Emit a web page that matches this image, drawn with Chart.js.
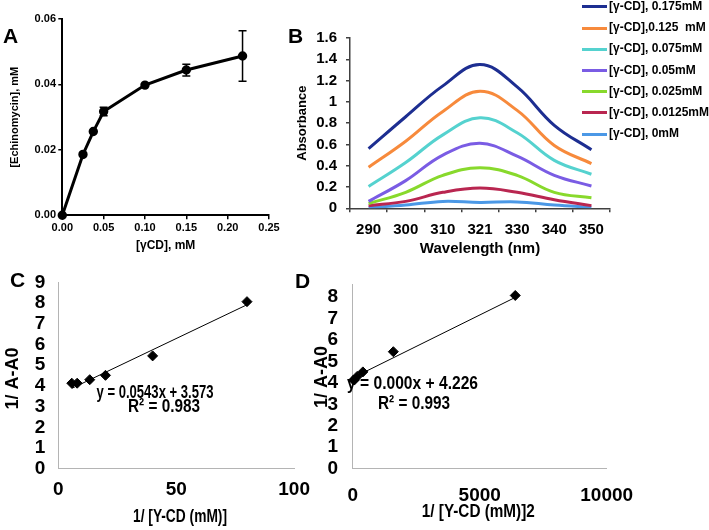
<!DOCTYPE html>
<html>
<head>
<meta charset="utf-8">
<script src="https://cdn.jsdelivr.net/npm/chart.js@4.4.1/dist/chart.umd.min.js"></script>
<style>
  body { margin: 0; background: #fff; }
  #fig { position: relative; width: 709px; height: 530px; overflow: hidden; font-family: "Liberation Sans", Arial, sans-serif; }
  #fig canvas { position: absolute; }
  .tag { position: absolute; font-weight: bold; font-size: 21px; line-height: 21px; }
  .leg { position: absolute; left: 582px; height: 14px; line-height: 14px; font-size: 12px; font-weight: bold; white-space: pre; }
  .leg span.ln { display: inline-block; width: 25px; height: 3px; vertical-align: middle; margin-right: 2px; }
</style>
</head>
<body>
<div id="fig">
  <canvas id="chartA" width="284" height="256" style="left:0;top:0"></canvas>
  <canvas id="chartB" width="350" height="262" style="left:280px;top:0"></canvas>
  <canvas id="chartC" width="320" height="272" style="left:0;top:258px"></canvas>
  <canvas id="chartD" width="355" height="272" style="left:305px;top:258px"></canvas>
  <div class="tag" style="left:3px;top:25px">A</div>
  <div class="tag" style="left:288px;top:25px">B</div>
  <div class="tag" style="left:10px;top:269px">C</div>
  <div class="tag" style="left:295px;top:270px">D</div>
  <div id="legendB"></div>
</div>
<script>
// panel A
var concA = [0, 0.025, 0.0375, 0.05, 0.1, 0.15, 0.218];
var echinoA = [0, 0.0186, 0.0256, 0.0317, 0.0398, 0.0444, 0.0487];
var errA = [0, 0, 0, 0.0013, 0.0003, 0.0018, 0.0077];

// panel B
var wavelengths = ['290', '300', '310', '321', '330', '340', '350'];
var seriesB = ['[γ-CD], 0.175mM', '[γ-CD],0.125  mM', '[γ-CD], 0.075mM', '[γ-CD], 0.05mM', '[γ-CD], 0.025mM', '[γ-CD], 0.0125mM', '[γ-CD], 0mM'];
var colorsB = ['#1d2e91', '#f78a3c', '#55d2cf', '#7a5ce4', '#88d92c', '#b92650', '#4b98e6'];
var abs175 = [0.56, 0.86, 1.15, 1.35, 1.14, 0.78, 0.55];
var abs125 = [0.385, 0.63, 0.91, 1.10, 0.92, 0.59, 0.42];
var abs075 = [0.205, 0.43, 0.69, 0.85, 0.71, 0.45, 0.32];
var abs05 = [0.065, 0.26, 0.50, 0.61, 0.49, 0.31, 0.21];
var abs025 = [0.045, 0.15, 0.31, 0.38, 0.31, 0.15, 0.10];
var abs0125 = [0.025, 0.065, 0.15, 0.19, 0.15, 0.08, 0.025];
var abs0 = [0.008, 0.03, 0.065, 0.055, 0.06, 0.03, 0.01];
var absB = [abs175, abs125, abs075, abs05, abs025, abs0125, abs0];

// panels C and D
var invConc = [5.714, 8, 13.33, 20, 40, 80];
var invConcSq = [32.65, 64, 177.8, 400, 1600, 6400];
var invDeltaA = [4.13, 4.13, 4.30, 4.51, 5.45, 8.07];
var fitCx = [5.714, 80], fitCy = [3.88, 7.92];
var fitDx = [32.65, 6400], fitDy = [4.25, 7.98];

Chart.defaults.font.family = '"Liberation Sans", Arial, sans-serif';
Chart.defaults.color = '#000';

const pairs = (xs, ys) => xs.map((x, i) => ({x: x, y: ys[i]}));

const errorBars = {
  id: 'errorBars',
  afterDatasetsDraw(chart, args, opts) {
    const ctx = chart.ctx, x = chart.scales.x, y = chart.scales.y;
    const data = chart.data.datasets[0].data;
    ctx.save();
    ctx.strokeStyle = '#000';
    ctx.lineWidth = 1.5;
    opts.errors.forEach((e, i) => {
      if (!e) return;
      const px = x.getPixelForValue(data[i].x);
      const t = y.getPixelForValue(data[i].y + e), b = y.getPixelForValue(data[i].y - e);
      ctx.beginPath();
      ctx.moveTo(px, t); ctx.lineTo(px, b);
      ctx.moveTo(px - 4, t); ctx.lineTo(px + 4, t);
      ctx.moveTo(px - 4, b); ctx.lineTo(px + 4, b);
      ctx.stroke();
    });
    ctx.restore();
  }
};

// free text (squeezed titles, trendline equations)
const notes = {
  id: 'notes',
  afterDraw(chart, args, opts) {
    const ctx = chart.ctx;
    (opts.items || []).forEach(it => {
      ctx.save();
      ctx.font = 'bold ' + it.size + 'px "Liberation Sans", Arial, sans-serif';
      ctx.fillStyle = '#000';
      ctx.textAlign = 'center';
      ctx.textBaseline = 'middle';
      ctx.translate(it.x, it.y);
      if (it.rot) ctx.rotate(-Math.PI / 2);
      if (it.w) ctx.fillText(it.text, 0, 0, it.w); else ctx.fillText(it.text, 0, 0);
      ctx.restore();
    });
  }
};

const barPlotA = () => {
  new Chart(document.getElementById('chartA'), {
    type: 'scatter',
    data: {
      datasets: [{
        data: pairs(concA, echinoA),
        showLine: true,
        borderColor: '#000',
        borderWidth: 3,
        pointRadius: 3.2,
        pointBackgroundColor: '#000',
        pointBorderColor: '#000',
        clip: false
      }]
    },
    options: {
      responsive: false,
      animation: false,
      layout: { padding: { top: 19, right: 15, left: 0, bottom: 0 } },
      plugins: { legend: { display: false }, tooltip: { enabled: false }, errorBars: { errors: errA } },
      scales: {
        x: {
          type: 'linear', min: 0, max: 0.25,
          ticks: { stepSize: 0.05, callback: v => v.toFixed(2), font: { size: 11, weight: 'bold' }, padding: 2, maxRotation: 0, autoSkip: false },
          grid: { drawOnChartArea: false, color: '#000', tickLength: 4, lineWidth: 1.5 },
          border: { color: '#000', width: 2 },
          title: { display: true, text: '[γCD], mM', font: { size: 12, weight: 'bold' }, padding: { top: 0, bottom: 3 } },
          afterFit(s) { s.height = 256 - 215.3; }
        },
        y: {
          min: 0, max: 0.06,
          ticks: { stepSize: 0.02, callback: v => v.toFixed(2), font: { size: 11, weight: 'bold' }, padding: 2.3 },
          grid: { drawOnChartArea: false, color: '#000', tickLength: 4, lineWidth: 1.5 },
          border: { color: '#000', width: 2 },
          title: { display: true, text: '[Echinomycin], mM', font: { size: 11, weight: 'bold' }, padding: { top: 8.4, bottom: 0 } },
          afterFit(s) { s.width = 62.3; }
        }
      }
    },
    plugins: [errorBars]
  });
};

const linePlotB = () => {
  new Chart(document.getElementById('chartB'), {
    type: 'line',
    data: {
      labels: wavelengths,
      datasets: absB.map((vals, i) => ({
        label: seriesB[i],
        data: vals,
        borderColor: colorsB[i],
        borderWidth: 3,
        pointRadius: 0,
        tension: 0.4,
        fill: false
      }))
    },
    options: {
      responsive: false,
      animation: false,
      layout: { padding: { top: 38, right: 20, left: 0, bottom: 0 } },
      plugins: { legend: { display: false }, tooltip: { enabled: false } },
      scales: {
        x: {
          offset: true,
          ticks: { font: { size: 15, weight: 'bold' }, padding: 9, maxRotation: 0, autoSkip: false },
          grid: { offset: true, drawOnChartArea: false, color: '#404040', tickLength: 4, lineWidth: 1.5 },
          border: { color: '#404040', width: 1.5 },
          title: { display: true, text: 'Wavelength (nm)', font: { size: 15, weight: 'bold' }, padding: { top: 0, bottom: 4 } },
          afterFit(s) { s.height = 262 - 208.3; }
        },
        y: {
          min: 0, max: 1.6,
          ticks: { stepSize: 0.2, callback: v => String(Math.round(v * 10) / 10), font: { size: 15, weight: 'bold' }, padding: 9 },
          grid: { drawOnChartArea: false, color: '#404040', tickLength: 4, lineWidth: 1.5 },
          border: { color: '#404040', width: 1.5 },
          title: { display: true, text: 'Absorbance', font: { size: 13, weight: 'bold' }, padding: { top: 15, bottom: 0 } },
          afterFit(s) { s.width = 70; }
        }
      }
    }
  });

  var box = document.getElementById('legendB');
  seriesB.forEach((name, i) => {
    var row = document.createElement('div');
    row.className = 'leg';
    row.style.top = (6 + i * 21.2 - 7) + 'px';
    row.innerHTML = '<span class="ln" style="background:' + colorsB[i] + '"></span>';
    row.appendChild(document.createTextNode(name));
    box.appendChild(row);
  });
};

const fitPlot = (id, xs, fx, fy, opt) => {
  new Chart(document.getElementById(id), {
    type: 'scatter',
    data: {
      datasets: [{
        data: pairs(xs, invDeltaA),
        pointStyle: 'rectRot',
        pointRadius: 5,
        pointBackgroundColor: '#000',
        pointBorderColor: '#000',
        showLine: false,
        clip: false
      }, {
        data: pairs(fx, fy),
        showLine: true,
        borderColor: '#000',
        borderWidth: 1,
        pointRadius: 0
      }]
    },
    options: {
      responsive: false,
      animation: false,
      layout: { padding: { top: opt.top, right: opt.right, left: 0, bottom: 0 } },
      plugins: { legend: { display: false }, tooltip: { enabled: false }, notes: { items: opt.notes } },
      scales: {
        x: {
          type: 'linear', min: 0, max: opt.xmax,
          ticks: { stepSize: opt.xstep, callback: v => String(v), font: { size: 19, weight: 'bold' }, padding: opt.xpad, maxRotation: 0, autoSkip: false },
          grid: { drawOnChartArea: false, drawTicks: false },
          border: { color: '#b4b4b4', width: 1 },
          afterFit(s) { s.height = 272 - (468.7 - 258); }
        },
        y: {
          min: 0, max: opt.ymax,
          ticks: { stepSize: 1, autoSkip: false, includeBounds: false, callback: v => Number.isInteger(v) ? String(v) : '', font: { size: 19, weight: 'bold' }, padding: opt.ypad },
          grid: { drawOnChartArea: false, drawTicks: false },
          border: { color: '#b4b4b4', width: 1 },
          afterFit(s) { s.width = opt.yw; }
        }
      }
    },
    plugins: [notes]
  });
};

barPlotA();
linePlotB();
fitPlot('chartC', invConc, fitCx, fitCy, {
  top: 12.7, right: 18.3, xmax: 100, xstep: 50, ymax: 9, yw: 58.3, xpad: 10, ypad: 13,
  notes: [
    { text: '1/ A-A0', x: 13.5, y: 120.5, size: 18, rot: true },
    { text: '1/ [Y-CD (mM)]', x: 180, y: 258.7, size: 18, w: 94 },
    { text: 'y = 0.0543x + 3.573', x: 155, y: 135, size: 19, w: 117 },
    { text: 'R² = 0.983', x: 164, y: 149, size: 19, w: 72 }
  ]
});
fitPlot('chartD', invConcSq, fitDx, fitDy, {
  top: 23.7, right: 53.3, xmax: 10000, xstep: 5000, ymax: 8.6, yw: 47.7, xpad: 15.6, ypad: 14.7,
  notes: [
    { text: '1/ A-A0', x: 17.5, y: 119, size: 18, rot: true },
    { text: '1/ [Y-CD (mM)]2', x: 173.3, y: 253.7, size: 18, w: 113 },
    { text: 'y = 0.000x + 4.226', x: 107.5, y: 125.3, size: 19, w: 131 },
    { text: 'R² = 0.993', x: 109, y: 146, size: 19, w: 72 }
  ]
});
</script>
</body>
</html>
